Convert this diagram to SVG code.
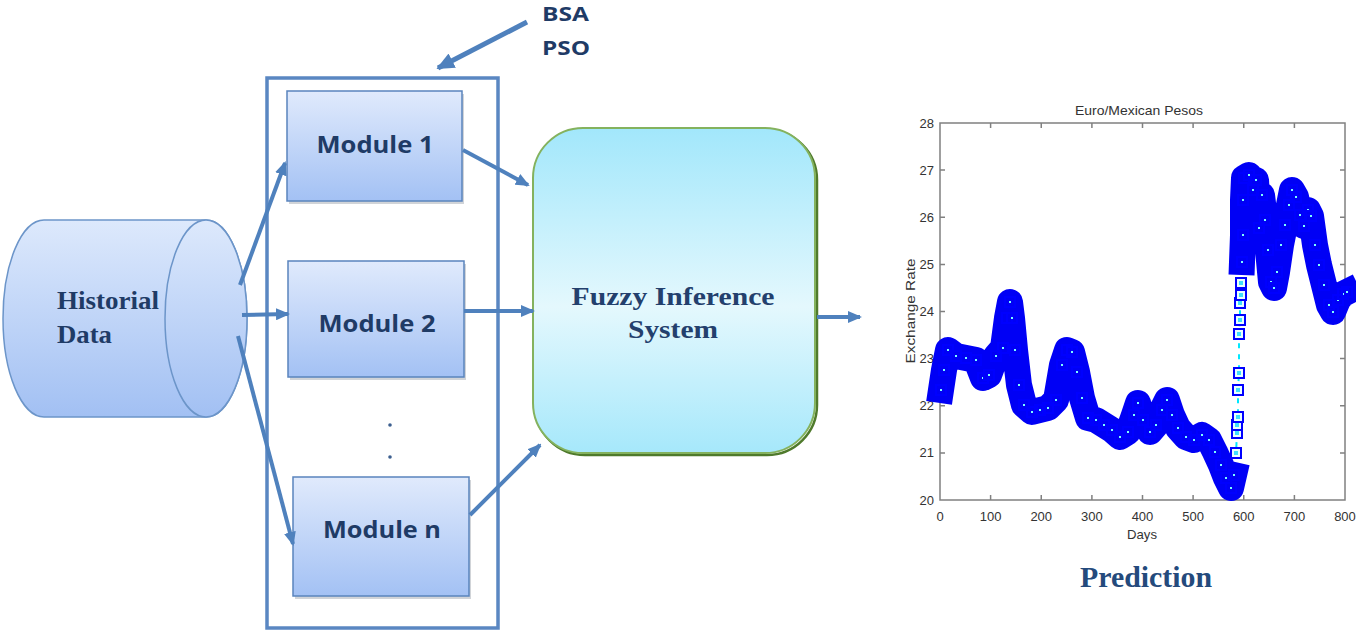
<svg xmlns="http://www.w3.org/2000/svg" width="1356" height="631" viewBox="0 0 1356 631">
<style>
.navy{fill:#1f3b66;}
.serifb{font-family:"Liberation Serif","Times New Roman",serif;font-weight:bold;}
.sansb{font-family:"Open Sans","Liberation Sans",Arial,sans-serif;font-weight:bold;}
.plt{font-family:"Liberation Sans",Arial,sans-serif;font-size:13px;fill:#333;}
.mod{stroke:#5a84bd;stroke-width:1.5;fill:url(#gMod);}
.shadow{fill:#9aa0a8;opacity:0.45;}
.arr{stroke:#4f81bd;stroke-width:4;fill:none;marker-end:url(#ah);}
.tick{stroke:#808080;stroke-width:1.5;}
</style>
<defs>
<linearGradient id="gMod" x1="0" y1="0" x2="0" y2="1">
<stop offset="0" stop-color="#e0eafc"/><stop offset="1" stop-color="#a3c1f4"/>
</linearGradient>
<linearGradient id="gCyl" x1="0" y1="0" x2="0" y2="1">
<stop offset="0" stop-color="#dde9fc"/><stop offset="1" stop-color="#a2c0f3"/>
</linearGradient>
<linearGradient id="gFis" x1="0" y1="0" x2="0" y2="1">
<stop offset="0" stop-color="#a2e7fb"/><stop offset="0.55" stop-color="#e4f8fd"/><stop offset="1" stop-color="#a6e8fb"/>
</linearGradient>
<marker id="ah" markerUnits="userSpaceOnUse" viewBox="0 0 14 12" markerWidth="14" markerHeight="12" refX="12" refY="6" orient="auto">
<path d="M0,0 L14,6 L0,12 Z" fill="#4f81bd"/>
</marker>
<marker id="ahb" markerUnits="userSpaceOnUse" viewBox="0 0 18 16" markerWidth="18" markerHeight="16" refX="16" refY="8" orient="auto">
<path d="M0,0 L18,8 L0,16 Z" fill="#4f81bd"/>
</marker>
<marker id="sq" markerUnits="userSpaceOnUse" viewBox="0 0 12 12" markerWidth="12" markerHeight="12" refX="6" refY="6">
<rect x="1" y="1" width="10" height="10" fill="none" stroke="#0000ff" stroke-width="2"/>
<rect x="5" y="5" width="2" height="2" fill="#7fffff"/>
</marker>
<marker id="sqw" markerUnits="userSpaceOnUse" viewBox="0 0 12 12" markerWidth="12" markerHeight="12" refX="6" refY="6">
<rect x="1" y="1" width="10" height="10" fill="#eaffff" stroke="#0000ff" stroke-width="2"/>
<rect x="4" y="4" width="4" height="4" fill="#40dfff"/>
</marker>
</defs>
<rect width="1356" height="631" fill="#ffffff"/>

<g id="historical-data">
<path d="M44,220 L206,220 A41,98.5 0 0 1 206,417 L44,417 A41,98.5 0 0 1 44,220 Z" fill="url(#gCyl)" stroke="#6c95c9" stroke-width="1.5"/>
<ellipse cx="206" cy="318.5" rx="41" ry="98.5" fill="url(#gCyl)" stroke="#6c95c9" stroke-width="1.5"/>
<text class="serifb navy" x="57" y="309" font-size="25" textLength="102" lengthAdjust="spacingAndGlyphs">Historial</text>
<text class="serifb navy" x="57" y="343" font-size="25" textLength="55" lengthAdjust="spacingAndGlyphs">Data</text>
</g>

<g id="module-container">
<rect x="267" y="78" width="231" height="550" fill="none" stroke="#5a87c2" stroke-width="3.5"/>
</g>

<g id="module-1">
<rect class="shadow" x="289" y="94" width="175" height="110"/>
<rect class="mod" x="287" y="91" width="175" height="110"/>
<text class="sansb navy" x="375" y="153" font-size="24" text-anchor="middle" textLength="117" lengthAdjust="spacingAndGlyphs">Module 1</text>
</g>
<g id="module-2">
<rect class="shadow" x="290" y="264" width="176" height="116"/>
<rect class="mod" x="288" y="261" width="176" height="116"/>
<text class="sansb navy" x="377" y="332" font-size="24" text-anchor="middle" textLength="117" lengthAdjust="spacingAndGlyphs">Module 2</text>
</g>
<g id="dots">
<circle cx="390" cy="425" r="1.8" fill="#3c5f8f"/>
<circle cx="390" cy="457" r="1.8" fill="#3c5f8f"/>
</g>
<g id="module-n">
<rect class="shadow" x="295" y="480" width="176" height="119"/>
<rect class="mod" x="293" y="477" width="176" height="119"/>
<text class="sansb navy" x="382" y="538" font-size="24" text-anchor="middle" textLength="118" lengthAdjust="spacingAndGlyphs">Module n</text>
</g>

<g id="bsa-pso">
<text class="sansb navy" x="542" y="21" font-size="20" textLength="47" lengthAdjust="spacingAndGlyphs">BSA</text>
<text class="sansb navy" x="542" y="55" font-size="20" textLength="48" lengthAdjust="spacingAndGlyphs">PSO</text>
</g>

<g id="fuzzy-inference-system">
<rect x="535" y="130" width="282" height="325" rx="50" ry="50" fill="none" stroke="#4f7a2c" stroke-width="2.5"/>
<rect x="533" y="128" width="282" height="325" rx="50" ry="50" fill="url(#gFis)" stroke="#84b25e" stroke-width="2"/>
<text class="serifb" fill="#23406d" x="673" y="305" font-size="26" text-anchor="middle" textLength="203" lengthAdjust="spacingAndGlyphs">Fuzzy Inference</text>
<text class="serifb" fill="#23406d" x="673" y="338" font-size="26" text-anchor="middle" textLength="90" lengthAdjust="spacingAndGlyphs">System</text>
</g>

<g id="connectors">
<line class="arr" x1="240" y1="285" x2="285" y2="163"/>
<line class="arr" x1="242" y1="315" x2="288" y2="314"/>
<line class="arr" x1="238" y1="336" x2="293" y2="544"/>
<line class="arr" x1="463" y1="150" x2="528" y2="185"/>
<line class="arr" x1="464" y1="311" x2="533" y2="311"/>
<line class="arr" x1="470" y1="515" x2="540" y2="445"/>
<line class="arr" x1="817" y1="317" x2="860" y2="317"/>
<line x1="527" y1="22" x2="438" y2="68" stroke="#4f81bd" stroke-width="5" marker-end="url(#ahb)"/>
</g>

<g id="prediction-chart">
<text class="plt" x="1139" y="115" text-anchor="middle" textLength="128" lengthAdjust="spacingAndGlyphs">Euro/Mexican Pesos</text>
<rect x="940" y="123" width="405" height="377" fill="#ffffff" stroke="#808080" stroke-width="1.5"/>
<g class="tick">
<path d="M990.6,123v5M1041.25,123v5M1091.9,123v5M1142.5,123v5M1193.1,123v5M1243.75,123v5M1294.4,123v5"/>
<path d="M990.6,500v-5M1041.25,500v-5M1091.9,500v-5M1142.5,500v-5M1193.1,500v-5M1243.75,500v-5M1294.4,500v-5"/>
<path d="M940,170.1h5M940,217.25h5M940,264.4h5M940,311.5h5M940,358.6h5M940,405.75h5M940,452.9h5"/>
<path d="M1345,170.1h-5M1345,217.25h-5M1345,264.4h-5M1345,311.5h-5M1345,358.6h-5M1345,405.75h-5M1345,452.9h-5"/>
</g>
<g class="plt" text-anchor="end">
<text x="934" y="127.5">28</text>
<text x="934" y="174.6">27</text>
<text x="934" y="221.7">26</text>
<text x="934" y="268.9">25</text>
<text x="934" y="316">24</text>
<text x="934" y="363.1">23</text>
<text x="934" y="410.2">22</text>
<text x="934" y="457.4">21</text>
<text x="934" y="504.5">20</text>
</g>
<g class="plt" text-anchor="middle">
<text x="940" y="521">0</text>
<text x="990.6" y="521">100</text>
<text x="1041.25" y="521">200</text>
<text x="1091.9" y="521">300</text>
<text x="1142.5" y="521">400</text>
<text x="1193.1" y="521">500</text>
<text x="1243.75" y="521">600</text>
<text x="1294.4" y="521">700</text>
<text x="1345" y="521">800</text>
<text x="1142" y="539" textLength="30" lengthAdjust="spacingAndGlyphs">Days</text>
</g>
<text class="plt" transform="translate(915,311) rotate(-90)" text-anchor="middle" textLength="105" lengthAdjust="spacingAndGlyphs">Exchange Rate</text>

<polyline points="1234,480 1236,453 1237,433 1237,425 1238,417 1238,390 1239,373 1239,334 1240,320 1240,303 1241,295 1241,283 1242,265" fill="none" stroke="#00e8ff" stroke-width="2" stroke-dasharray="5 6"/>
<path d="M941,390 L944,370 L948,350 L956,356 L966,358 L976,360 L983,378 L989,375 L996,356 L1003,348 L1007,318 L1010,302 L1012,318 L1015,350 L1019,385 L1024,405 L1032,412 L1040,410 L1048,408 L1056,400 L1062,365 L1067,350 L1072,352 L1077,372 L1082,398 L1088,418 L1096,420 L1104,425 L1112,430 L1120,437 L1128,432 L1134,415 L1138,403 L1143,420 L1150,432 L1156,425 L1162,410 L1167,400 L1172,415 L1178,428 L1186,437 L1194,440 L1202,435 L1209,440 L1215,452 L1221,465 L1226,478 L1231,488 L1234,475" fill="none" stroke="#0000f5" stroke-width="26" stroke-linejoin="round" stroke-linecap="square"/>
<path d="M1242,262 L1243,235 L1243,200 L1244,178 L1249,175 L1253,190 L1256,180 L1259,228 L1262,195 L1265,220 L1268,250 L1271,282 L1274,288 L1277,272 L1281,245 L1285,225 L1289,205 L1292,190 L1296,197 L1300,215 L1304,226 L1308,210 L1311,216 L1315,245 L1319,265 L1324,285 L1329,305 L1333,312 L1338,300 L1343,294 L1347,292" fill="none" stroke="#0000f5" stroke-width="26" stroke-linejoin="round" stroke-linecap="square"/>
<path d="M941,390 L944,370 L948,350 L956,356 L966,358 L976,360 L983,378 L989,375 L996,356 L1003,348 L1007,318 L1010,302 L1012,318 L1015,350 L1019,385 L1024,405 L1032,412 L1040,410 L1048,408 L1056,400 L1062,365 L1067,350 L1072,352 L1077,372 L1082,398 L1088,418 L1096,420 L1104,425 L1112,430 L1120,437 L1128,432 L1134,415 L1138,403 L1143,420 L1150,432 L1156,425 L1162,410 L1167,400 L1172,415 L1178,428 L1186,437 L1194,440 L1202,435 L1209,440 L1215,452 L1221,465 L1226,478 L1231,488 L1234,475" fill="none" stroke="none" marker-start="url(#sq)" marker-mid="url(#sq)" marker-end="url(#sq)"/>
<path d="M1242,262 L1243,235 L1243,200 L1244,178 L1249,175 L1253,190 L1256,180 L1259,228 L1262,195 L1265,220 L1268,250 L1271,282 L1274,288 L1277,272 L1281,245 L1285,225 L1289,205 L1292,190 L1296,197 L1300,215 L1304,226 L1308,210 L1311,216 L1315,245 L1319,265 L1324,285 L1329,305 L1333,312 L1338,300 L1343,294 L1347,292" fill="none" stroke="none" marker-start="url(#sq)" marker-mid="url(#sq)" marker-end="url(#sq)"/>
<polyline points="1236,453 1237,433 1237,425 1238,417 1238,390 1239,373 1239,334 1240,320 1240,303 1241,295 1241,283" fill="none" stroke="none" marker-start="url(#sqw)" marker-mid="url(#sqw)" marker-end="url(#sqw)"/>
<text class="serifb" fill="#244a7c" x="1146" y="587" font-size="29" text-anchor="middle" textLength="132" lengthAdjust="spacingAndGlyphs">Prediction</text>
</g>
</svg>
